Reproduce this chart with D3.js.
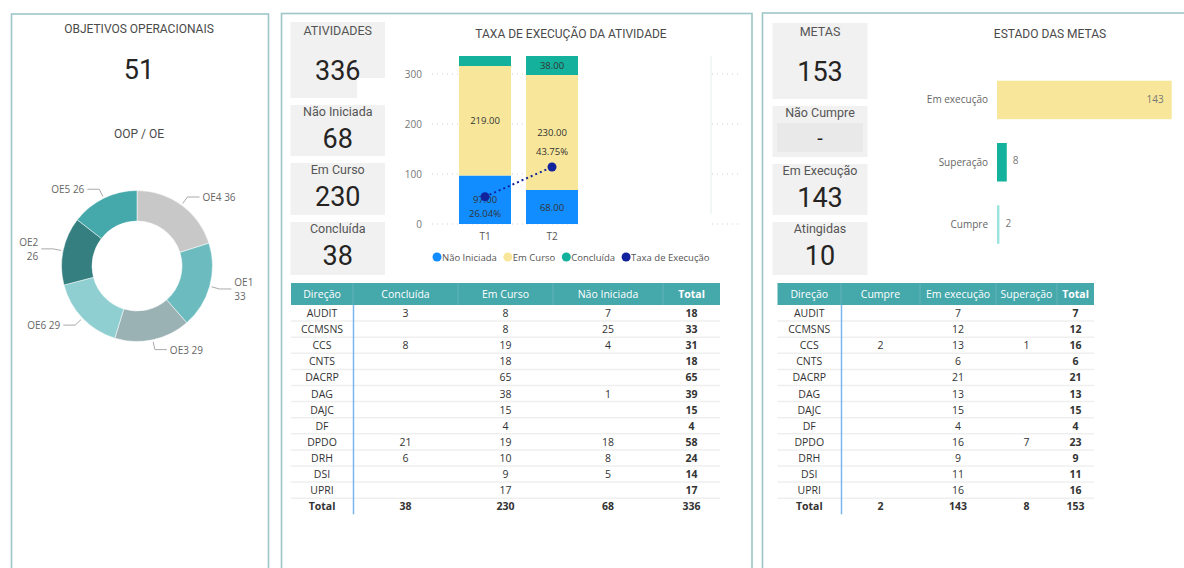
<!DOCTYPE html>
<html>
<head>
<meta charset="utf-8">
<script src="https://cdn.jsdelivr.net/npm/d3@7"></script>
<style>
  body { margin: 0; background: #fff; }
  svg { display: block; }
  .title { font-family: Roboto, sans-serif; font-size: 12px; fill: #4a4a4a; text-anchor: middle; }
  .kpi-label { font-family: Roboto, sans-serif; font-size: 12.5px; fill: #555; text-anchor: middle; }
  .kpi-value { font-family: Roboto, sans-serif; font-size: 27px; fill: #252423; text-anchor: middle; }
  .small { font-family: "Open Sans", sans-serif; font-size: 10px; fill: #666; }
  .cell { font-family: "Open Sans", sans-serif; font-size: 10.5px; fill: #333; text-anchor: middle; }
</style>
</head>
<body>
<div id="chart"></div>
<script>
// ---- data ----
const oeLabels = ["OE4", "OE1", "OE3", "OE6", "OE2", "OE5"];
const oeValues = [36, 33, 29, 29, 26, 26];
const oeColors = ["#c8c8c8", "#6cbcbf", "#9bb2b5", "#8fcfd1", "#367f80", "#45a9ab"];
const totalObjetivos = 51;

const ativLabels = ["ATIVIDADES", "Não Iniciada", "Em Curso", "Concluída"];
const ativValues = [336, 68, 230, 38];

const periods = ["T1", "T2"];
const naoIniciada = [97, 68];
const emCurso = [219, 230];
const concluida = [20, 38];
const taxaExecucao = [0.2604, 0.4375];
const yTicks = [0, 100, 200, 300];

const metasLabels = ["METAS", "Não Cumpre", "Em Execução", "Atingidas"];
const metasValues = [153, null, 143, 10];

const estadoCats = ["Em execução", "Superação", "Cumpre"];
const estadoValues = [143, 8, 2];

const direcoes = ["AUDIT", "CCMSNS", "CCS", "CNTS", "DACRP", "DAG", "DAJC", "DF", "DPDO", "DRH", "DSI", "UPRI"];
const ativHeaders = ["Direção", "Concluída", "Em Curso", "Não Iniciada", "Total"];
const ativConcluida = [3, null, 8, null, null, null, null, null, 21, 6, null, null];
const ativEmCurso = [8, 8, 19, 18, 65, 38, 15, 4, 19, 10, 9, 17];
const ativNaoIniciada = [7, 25, 4, null, null, 1, null, null, 18, 8, 5, null];
const ativTotal = [18, 33, 31, 18, 65, 39, 15, 4, 58, 24, 14, 17];
const ativTotals = [38, 230, 68, 336];

const metasHeaders = ["Direção", "Cumpre", "Em execução", "Superação", "Total"];
const metasCumpre = [null, null, 2, null, null, null, null, null, null, null, null, null];
const metasEmExec = [7, 12, 13, 6, 21, 13, 15, 4, 16, 9, 11, 16];
const metasSuperacao = [null, null, 1, null, null, null, null, null, 7, null, null, null];
const metasTotal = [7, 12, 16, 6, 21, 13, 15, 4, 23, 9, 11, 16];
const metasTotals = [2, 143, 8, 153];

const colBlue = "#118dff", colYellow = "#f8e79a", colTeal = "#14b29c", colNavy = "#12239e";

// ---- svg ----
const W = 1184, H = 568;
const svg = d3.select("#chart").append("svg").attr("width", W).attr("height", H);

// panel borders
[[11.5, 14, 257], [281.5, 13.5, 470.5], [762.5, 13, 440]].forEach(p => {
  svg.append("rect").attr("x", p[0]).attr("y", p[1]).attr("width", p[2]).attr("height", 600)
    .attr("fill", "none").attr("stroke", "#9fc6c7").attr("stroke-width", 1.6);
});

// ---- left panel: objetivos ----
svg.append("text").attr("class", "title").attr("x", 139).attr("y", 33).text("OBJETIVOS OPERACIONAIS");
svg.append("text").attr("class", "kpi-value").attr("x", 139).attr("y", 79).text(totalObjetivos);
svg.append("text").attr("class", "title").attr("x", 139).attr("y", 138).text("OOP / OE");

const cx = 137, cy = 266, rOut = 75.5, rIn = 45;
const pie = d3.pie().sort(null).value(d => d.v);
const oeData = pie(oeLabels.map((l, i) => ({ l: l, v: oeValues[i], c: oeColors[i] })));
const arc = d3.arc().innerRadius(rIn).outerRadius(rOut);
const donut = svg.append("g").attr("transform", `translate(${cx},${cy})`);
donut.selectAll("path").data(oeData).enter().append("path")
  .attr("d", arc).attr("fill", d => d.data.c).attr("stroke", "#fff").attr("stroke-width", 0.5);

oeData.forEach(d => {
  const a = (d.startAngle + d.endAngle) / 2;
  const s = Math.sin(a), c = -Math.cos(a);
  const p1 = [s * (rOut + 2), c * (rOut + 2)];
  const p2 = [s * (rOut + 10), c * (rOut + 10)];
  const dir = s >= 0 ? 1 : -1;
  const p3 = [p2[0] + dir * 12, p2[1]];
  donut.append("polyline").attr("points", [p1, p2, p3].map(p => p.join(",")).join(" "))
    .attr("fill", "none").attr("stroke", "#aaa").attr("stroke-width", 1);
  const t = donut.append("text").attr("class", "small")
    .attr("text-anchor", dir > 0 ? "start" : "end");
  const tx = p3[0] + dir * 3;
  if (Math.abs(s) > 0.9) {
    t.append("tspan").attr("x", tx).attr("y", p3[1] - 3).text(d.data.l);
    t.append("tspan").attr("x", tx).attr("y", p3[1] + 11).text(d.data.v);
  } else {
    t.attr("x", tx).attr("y", p3[1] + 4).text(d.data.l + " " + d.data.v);
  }
});

// ---- KPI cards ----
function kpiCards(x, w, tops, heights, labels, values) {
  tops.forEach((ty, i) => {
    svg.append("rect").attr("x", x).attr("y", ty).attr("width", w).attr("height", heights[i]).attr("fill", "#f1f1f1");
    const big = i === 0;
    svg.append("text").attr("class", "kpi-label").attr("x", x + w / 2)
      .attr("y", ty + (big ? 12.5 : 11)).text(labels[i]);
    if (values[i] === null) {
      svg.append("rect").attr("x", x + 4.5).attr("y", ty + 17).attr("width", w - 9).attr("height", 29).attr("fill", "#e9e9e9");
      svg.append("text").attr("class", "kpi-value").style("font-size", "20px").attr("x", x + w / 2).attr("y", ty + 39).text("-");
    } else {
      svg.append("text").attr("class", "kpi-value").attr("x", x + w / 2)
        .attr("y", ty + (big ? 57.5 : 42.5)).text(values[i]);
    }
  });
}
kpiCards(290.5, 94.5, [22, 105, 163, 222], [76, 51, 52, 53], ativLabels, ativValues);
svg.append("rect").attr("x", 357).attr("y", 78).attr("width", 28).attr("height", 20).attr("fill", "#fff");
kpiCards(772.5, 95, [23, 106, 164, 222], [76, 51, 51, 53], metasLabels, metasValues);

// ---- middle chart: taxa de execução ----
svg.append("text").attr("class", "title").attr("x", 571).attr("y", 38).text("TAXA DE EXECUÇÃO DA ATIVIDADE");

const x = d3.scaleBand().domain(periods).range([451.5, 585.5]).paddingInner(0.224).paddingOuter(0.112);
const y = d3.scaleLinear().domain([0, 300]).range([224, 74]);
const y2 = d3.scaleLinear().domain([0, 1]).range([240.4, 72.7]);

const grid = svg.append("g");
yTicks.forEach(t => {
  grid.append("line").attr("x1", 432).attr("x2", 742).attr("y1", y(t)).attr("y2", y(t))
    .attr("stroke", "#cfcfcf").attr("stroke-dasharray", "1,4").attr("stroke-width", 1);
  grid.append("text").attr("class", "small").attr("x", 422).attr("y", y(t) + 3.5)
    .attr("text-anchor", "end").style("fill", "#777").text(t);
});
// blank area of the neighbouring visual
svg.append("rect").attr("x", 580).attr("y", 45).attr("width", 130).attr("height", 185).attr("fill", "#fff");
svg.append("line").attr("x1", 711).attr("x2", 711).attr("y1", 56).attr("y2", 214).attr("stroke", "#e4f0ef");

const series = [
  { key: "Não Iniciada", vals: naoIniciada, color: colBlue },
  { key: "Em Curso", vals: emCurso, color: colYellow },
  { key: "Concluída", vals: concluida, color: colTeal }
];
periods.forEach((p, i) => {
  let base = 0;
  series.forEach(s => {
    const v = s.vals[i];
    svg.append("rect").attr("x", x(p)).attr("width", x.bandwidth())
      .attr("y", y(base + v)).attr("height", y(base) - y(base + v)).attr("fill", s.color);
    if (v >= 30) {
      svg.append("text").attr("class", "small").style("fill", "#333").style("font-size", "9.5px")
        .attr("text-anchor", "middle").attr("x", x(p) + x.bandwidth() / 2)
        .attr("y", y(base + v / 2) + 3.5).text(v.toFixed(2));
    }
    base += v;
  });
  svg.append("text").attr("class", "small").attr("text-anchor", "middle").style("fill", "#555")
    .attr("x", x(p) + x.bandwidth() / 2).attr("y", 240).text(p);
});

const linePts = periods.map((p, i) => [x(p) + x.bandwidth() / 2, y2(taxaExecucao[i])]);
svg.append("path").attr("d", d3.line()(linePts)).attr("fill", "none")
  .attr("stroke", colNavy).attr("stroke-width", 2).attr("stroke-dasharray", "2,3");
linePts.forEach((pt, i) => {
  svg.append("circle").attr("cx", pt[0]).attr("cy", pt[1]).attr("r", 4.5).attr("fill", colNavy);
  const below = pt[1] > y(naoIniciada[i]);
  svg.append("text").attr("class", "small").style("fill", "#333").style("font-size", "9.5px")
    .attr("text-anchor", "middle").attr("x", pt[0]).attr("y", pt[1] + (below ? 20 : -12))
    .text((taxaExecucao[i] * 100).toFixed(2) + "%");
});

// legend
const legendItems = [["Não Iniciada", colBlue], ["Em Curso", colYellow], ["Concluída", colTeal], ["Taxa de Execução", colNavy]];
let lx = 437;
legendItems.forEach(it => {
  svg.append("circle").attr("cx", lx).attr("cy", 257).attr("r", 4.5).attr("fill", it[1]);
  const t = svg.append("text").attr("class", "small").style("font-size", "9.5px").style("fill", "#555")
    .attr("x", lx + 5).attr("y", 260.5).text(it[0]);
  lx += t.node().getComputedTextLength() + 16;
});

// ---- right chart: estado das metas ----
svg.append("text").attr("class", "title").attr("x", 1050).attr("y", 38).text("ESTADO DAS METAS");
const xm = d3.scaleLinear().domain([0, 143]).range([997, 1171.7]);
const ym = d3.scaleBand().domain(estadoCats).range([68.8, 255.7]).paddingInner(0.382).paddingOuter(0.191);
const estadoColors = [colYellow, colTeal, "#9de4df"];
estadoCats.forEach((c, i) => {
  const v = estadoValues[i];
  svg.append("rect").attr("x", xm(0)).attr("y", ym(c)).attr("width", xm(v) - xm(0))
    .attr("height", ym.bandwidth()).attr("fill", estadoColors[i]);
  const cyb = ym(c) + ym.bandwidth() / 2;
  svg.append("text").attr("class", "small").attr("text-anchor", "end").attr("x", 988).attr("y", cyb + 3.5).text(c);
  const inside = xm(v) - xm(0) > 40;
  svg.append("text").attr("class", "small").style("fill", "#777")
    .attr("text-anchor", inside ? "end" : "start")
    .attr("x", inside ? xm(v) - 8 : xm(v) + 6).attr("y", cyb + (inside ? 3.5 : 2)).text(v);
});

// ---- tables ----
function drawTable(x0, cols, headers, cells, totals) {
  const top = 283, headH = 22, rowH = 16.1;
  const right = cols[cols.length - 1];
  svg.append("rect").attr("x", x0).attr("y", top).attr("width", right - x0).attr("height", headH).attr("fill", "#45a8ab");
  const bounds = [x0].concat(cols);
  headers.forEach((h, j) => {
    const mx = (bounds[j] + bounds[j + 1]) / 2;
    if (j > 0) svg.append("line").attr("x1", bounds[j]).attr("x2", bounds[j]).attr("y1", top).attr("y2", top + headH)
      .attr("stroke", "#fff").attr("stroke-opacity", 0.15);
    svg.append("text").attr("class", "cell").style("fill", "#fff")
      .style("font-weight", j === headers.length - 1 ? "bold" : null)
      .attr("x", mx).attr("y", top + 15).text(h);
  });
  const rows = direcoes.map((d, i) => [d].concat(cells.map(c => c[i])));
  rows.push(["Total"].concat(totals));
  rows.forEach((r, i) => {
    const ry = top + headH + rowH * i;
    if (i > 0) svg.append("line").attr("x1", x0).attr("x2", right).attr("y1", ry).attr("y2", ry)
      .attr("stroke", "#efefef").attr("stroke-width", 1.5);
    r.forEach((v, j) => {
      if (v === null) return;
      const mx = (bounds[j] + bounds[j + 1]) / 2;
      const bold = i === rows.length - 1 || j === r.length - 1;
      svg.append("text").attr("class", "cell").style("font-weight", bold ? "bold" : null)
        .attr("x", mx).attr("y", ry + rowH / 2 + 4).text(v);
    });
  });
  svg.append("line").attr("x1", bounds[1] + 0.5).attr("x2", bounds[1] + 0.5)
    .attr("y1", top + headH).attr("y2", top + headH + rowH * rows.length)
    .attr("stroke", "#7ab6ee").attr("stroke-width", 1.5);
}
drawTable(291, [353, 458, 553, 663, 720], ativHeaders,
  [ativConcluida, ativEmCurso, ativNaoIniciada, ativTotal], ativTotals);
drawTable(777.5, [841, 920, 996, 1057, 1094], metasHeaders,
  [metasCumpre, metasEmExec, metasSuperacao, metasTotal], metasTotals);
</script>
</body>
</html>
